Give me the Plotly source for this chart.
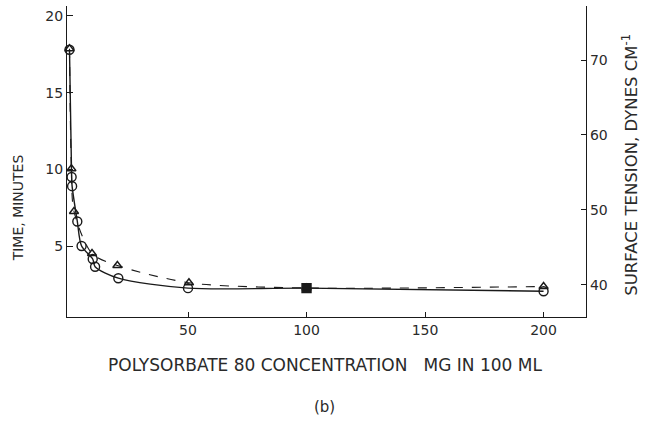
import plotly.graph_objects as go

# Data
conc_time = [0, 0.9, 1.1, 3.3, 5.1, 9.8, 10.8, 20.6, 50, 100, 200]
time_min = [17.8, 9.5, 8.9, 6.6, 5.0, 4.15, 3.65, 2.9, 2.25, 2.25, 2.05]

conc_st = [0, 0.8, 1.9, 9.5, 20.2, 50.4, 100, 200]
surface_tension = [71.5, 55.5, 49.8, 44.2, 42.6, 40.3, 39.6, 39.8]

x_ticks = [50, 100, 150, 200]
left_ticks = [5, 10, 15, 20]
right_ticks = [40, 50, 60, 70]

INK = "#1a1a1a"
TXT = "#2a2a2a"
FONT = "DejaVu Sans, Verdana, sans-serif"

time_symbols = ["circle-open"] * len(conc_time)
time_symbols[conc_time.index(100)] = "square"

fig = go.Figure()

# Surface tension curve (right axis)
fig.add_trace(go.Scatter(
    x=conc_st, y=surface_tension, yaxis="y2", mode="lines+markers",
    line=dict(color=INK, width=1.1, dash="dash", shape="spline", smoothing=0.8),
    marker=dict(symbol="triangle-up-open", size=8, color=INK, line=dict(width=1.4)),
    showlegend=False, cliponaxis=False,
))

# Time curve (left axis)
fig.add_trace(go.Scatter(
    x=conc_time, y=time_min, mode="lines+markers",
    line=dict(color=INK, width=1.4, shape="spline", smoothing=0.8),
    marker=dict(symbol=time_symbols, size=9, color=INK, line=dict(width=1.4, color=INK)),
    showlegend=False, cliponaxis=False,
))

fig.update_layout(
    width=645, height=431,
    margin=dict(l=67, r=59, t=6, b=114),
    paper_bgcolor="white", plot_bgcolor="white",
    font=dict(family=FONT, color=TXT, size=13),
    xaxis=dict(
        range=[-1.05, 217.9], tickvals=x_ticks, ticks="inside", ticklen=5,
        tickcolor=INK, showline=True, linecolor=INK, linewidth=1.2,
        showgrid=False, zeroline=False, tickfont=dict(size=14, color=TXT),
    ),
    yaxis=dict(
        range=[0.37, 20.65], tickvals=left_ticks, ticks="inside", ticklen=6,
        tickcolor=INK, showline=True, linecolor=INK, linewidth=1.2,
        showgrid=False, zeroline=False, tickfont=dict(size=14, color=TXT),
    ),
    yaxis2=dict(
        range=[35.73, 77.2], tickvals=right_ticks, ticks="inside", ticklen=5,
        tickcolor=INK, showline=True, linecolor=INK, linewidth=1.2,
        overlaying="y", side="right", showgrid=False, zeroline=False,
        tickfont=dict(size=14, color=TXT),
    ),
    annotations=[
        dict(text="TIME, MINUTES", xref="paper", yref="paper",
             x=-0.094, y=0.35, xanchor="center", yanchor="middle",
             textangle=-90, showarrow=False, font=dict(size=14, color=TXT)),
        dict(text="SURFACE TENSION, DYNES CM<sup>-1</sup>", xref="paper", yref="paper",
             x=1.085, y=0.49, xanchor="center", yanchor="middle",
             textangle=-90, showarrow=False, font=dict(size=16.5, color=TXT)),
        dict(text="POLYSORBATE 80 CONCENTRATION   MG IN 100 ML", xref="paper", yref="paper",
             x=0.498, y=-0.155, xanchor="center", yanchor="middle",
             showarrow=False, font=dict(size=17, color=TXT)),
        dict(text="(b)", xref="paper", yref="paper",
             x=0.497, y=-0.29, xanchor="center", yanchor="middle",
             showarrow=False, font=dict(size=15, color=TXT)),
    ],
)

fig.write_html("out.html")
